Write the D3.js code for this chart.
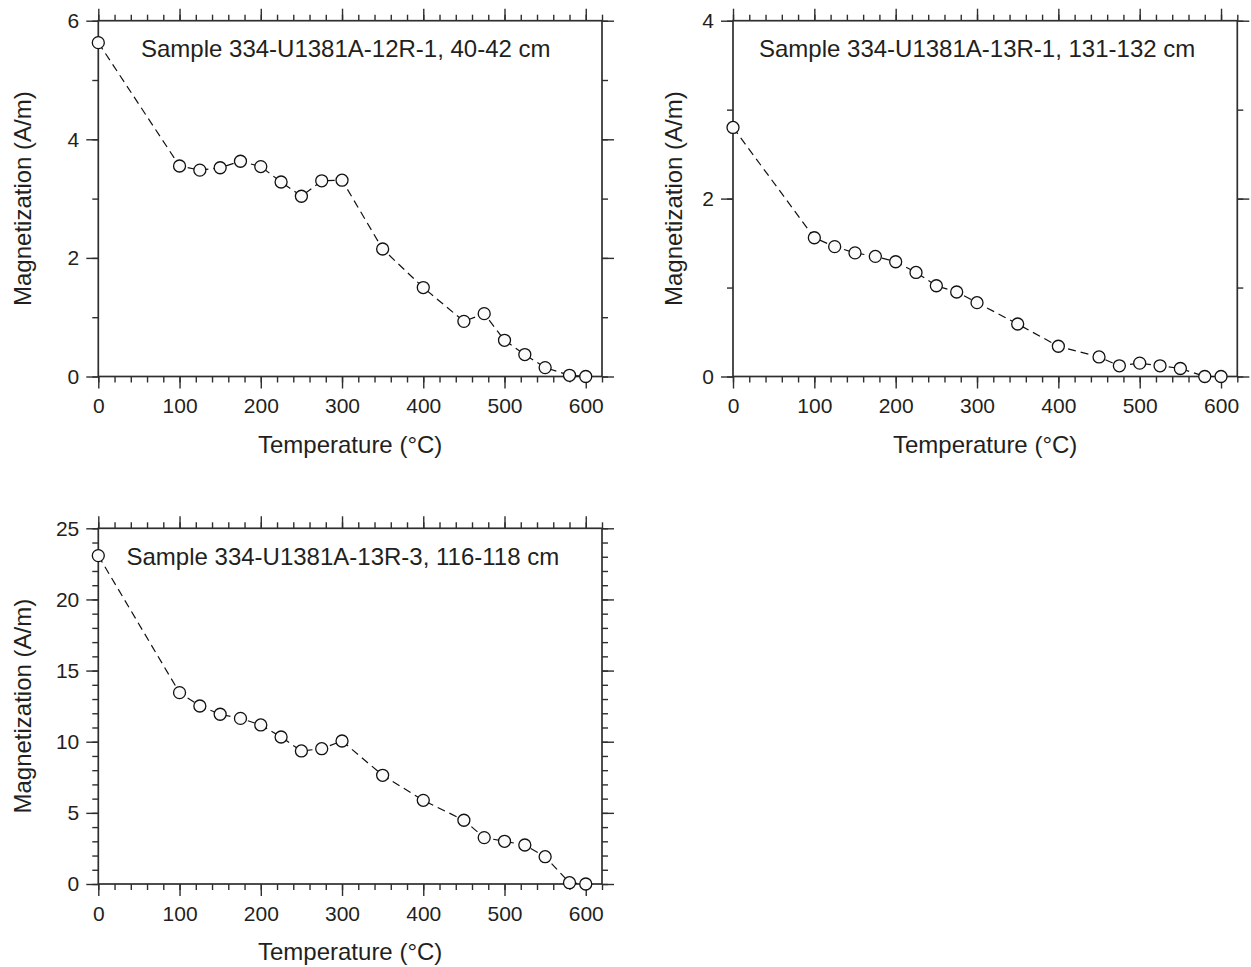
<!DOCTYPE html>
<html>
<head>
<meta charset="utf-8">
<script src="https://cdn.jsdelivr.net/npm/d3@7"></script>
<style>
  html, body { margin: 0; padding: 0; background: #fff; }
  svg { display: block; }
  text { font-family: "Liberation Sans", Arial, Helvetica, sans-serif; fill: #231f20; }
</style>
</head>
<body>
<svg id="chart" width="1251" height="967"></svg>
<script>
// ---- data ----
const temperatures = [0, 100, 125, 150, 175, 200, 225, 250, 275, 300, 350, 400, 450, 475, 500, 525, 550, 580, 600];
const mag12R1 = [5.63, 3.55, 3.48, 3.52, 3.63, 3.54, 3.28, 3.04, 3.30, 3.31, 2.15, 1.50, 0.93, 1.06, 0.61, 0.37, 0.15, 0.02, 0.00];
const mag13R1 = [2.80, 1.56, 1.46, 1.39, 1.35, 1.29, 1.17, 1.02, 0.95, 0.83, 0.59, 0.34, 0.22, 0.12, 0.15, 0.12, 0.09, 0.00, 0.00];
const mag13R3 = [23.08, 13.45, 12.51, 11.93, 11.64, 11.18, 10.33, 9.35, 9.51, 10.05, 7.64, 5.88, 4.48, 3.26, 3.00, 2.74, 1.92, 0.09, 0.00];
const sampleLabels = ["Sample 334-U1381A-12R-1, 40-42 cm", "Sample 334-U1381A-13R-1, 131-132 cm", "Sample 334-U1381A-13R-3, 116-118 cm"];
const tempTicks = [0, 100, 200, 300, 400, 500, 600];
const tempMinorTicks = d3.range(0, 621, 20);
const yTicks12R1 = [0, 2, 4, 6];
const yMinor12R1 = [0, 1, 2, 3, 4, 5, 6];
const yTicks13R1 = [0, 2, 4];
const yMinor13R1 = [0, 1, 2, 3, 4];
const yTicks13R3 = [0, 5, 10, 15, 20, 25];
const yMinor13R3 = d3.range(0, 26, 1);
const xTitle = "Temperature (°C)";
const yTitle = "Magnetization (A/m)";

// ---- layout ----
const panels = [
  { values: mag12R1, label: sampleLabels[0], ymax: 6, ticks: yTicks12R1, minor: yMinor12R1,
    left: 98.3, right: 602, top: 20.7, bottom: 376.5, labelX: 141, yTitleX: 31 },
  { values: mag13R1, label: sampleLabels[1], ymax: 4, ticks: yTicks13R1, minor: yMinor13R1,
    left: 733, right: 1237.3, top: 20.7, bottom: 376.5, labelX: 759, yTitleX: 682 },
  { values: mag13R3, label: sampleLabels[2], ymax: 25, ticks: yTicks13R3, minor: yMinor13R3,
    left: 98.3, right: 602, top: 528.3, bottom: 884, labelX: 126.5, yTitleX: 31 }
];

const svg = d3.select("#chart");
const axisColor = "#2e2e2e";

panels.forEach(p => {
  const x = d3.scaleLinear().domain([0, 620]).range([p.left, p.right]);
  const y = d3.scaleLinear().domain([0, p.ymax]).range([p.bottom, p.top]);
  const g = svg.append("g");

  function styleAxis(sel, showText) {
    sel.select(".domain").remove();
    sel.selectAll(".tick line").attr("stroke", axisColor).attr("stroke-width", 1.4);
    if (!showText) sel.selectAll(".tick text").remove();
    else sel.selectAll(".tick text")
      .style("font-family", '"Liberation Sans", Arial, Helvetica, sans-serif')
      .style("font-size", "21px").attr("fill", "#231f20");
  }

  // minor ticks
  g.append("g").attr("transform", `translate(0,${p.bottom})`)
    .call(d3.axisBottom(x).tickValues(tempMinorTicks).tickSize(6).tickFormat(""))
    .call(s => styleAxis(s, false));
  g.append("g").attr("transform", `translate(0,${p.top})`)
    .call(d3.axisTop(x).tickValues(tempMinorTicks).tickSize(6).tickFormat(""))
    .call(s => styleAxis(s, false));
  g.append("g").attr("transform", `translate(${p.left},0)`)
    .call(d3.axisLeft(y).tickValues(p.minor).tickSize(6).tickFormat(""))
    .call(s => styleAxis(s, false));
  g.append("g").attr("transform", `translate(${p.right},0)`)
    .call(d3.axisRight(y).tickValues(p.minor).tickSize(6).tickFormat(""))
    .call(s => styleAxis(s, false));

  // major ticks
  const xb = g.append("g").attr("transform", `translate(0,${p.bottom})`)
    .call(d3.axisBottom(x).tickValues(tempTicks).tickSize(12).tickPadding(10).tickFormat(d3.format("d")))
    .call(s => styleAxis(s, true));
  xb.selectAll(".tick text").attr("dy", "0.71em");
  g.append("g").attr("transform", `translate(0,${p.top})`)
    .call(d3.axisTop(x).tickValues(tempTicks).tickSize(12).tickFormat(""))
    .call(s => styleAxis(s, false));
  g.append("g").attr("transform", `translate(${p.left},0)`)
    .call(d3.axisLeft(y).tickValues(p.ticks).tickSize(12).tickPadding(7).tickFormat(d3.format("d")))
    .call(s => styleAxis(s, true));
  g.append("g").attr("transform", `translate(${p.right},0)`)
    .call(d3.axisRight(y).tickValues(p.ticks).tickSize(12).tickFormat(""))
    .call(s => styleAxis(s, false));

  // frame
  g.append("rect")
    .attr("x", p.left).attr("y", p.top)
    .attr("width", p.right - p.left).attr("height", p.bottom - p.top)
    .attr("fill", "none").attr("stroke", axisColor).attr("stroke-width", 1.7);

  // data
  const pts = temperatures.map((t, i) => ({ t, v: p.values[i] }));
  const line = d3.line().x(d => x(d.t)).y(d => y(d.v));
  g.append("path").datum(pts)
    .attr("d", line)
    .attr("fill", "none").attr("stroke", "#111").attr("stroke-width", 1.2)
    .attr("stroke-dasharray", "8,5");
  g.selectAll("circle.pt").data(pts).join("circle")
    .attr("class", "pt")
    .attr("cx", d => x(d.t)).attr("cy", d => y(d.v)).attr("r", 6)
    .attr("fill", "#fafafa").attr("stroke", "#111").attr("stroke-width", 1.3);

  // sample label
  g.append("text").attr("x", p.labelX).attr("y", p.top + 36.3)
    .style("font-size", "24px").text(p.label);

  // axis titles
  g.append("text")
    .attr("x", (p.left + p.right) / 2).attr("y", p.bottom + 76)
    .attr("text-anchor", "middle").style("font-size", "24px").text(xTitle);
  g.append("text")
    .attr("transform", `translate(${p.yTitleX},${(p.top + p.bottom) / 2}) rotate(-90)`)
    .attr("text-anchor", "middle").style("font-size", "24px").text(yTitle);
});
</script>
</body>
</html>
